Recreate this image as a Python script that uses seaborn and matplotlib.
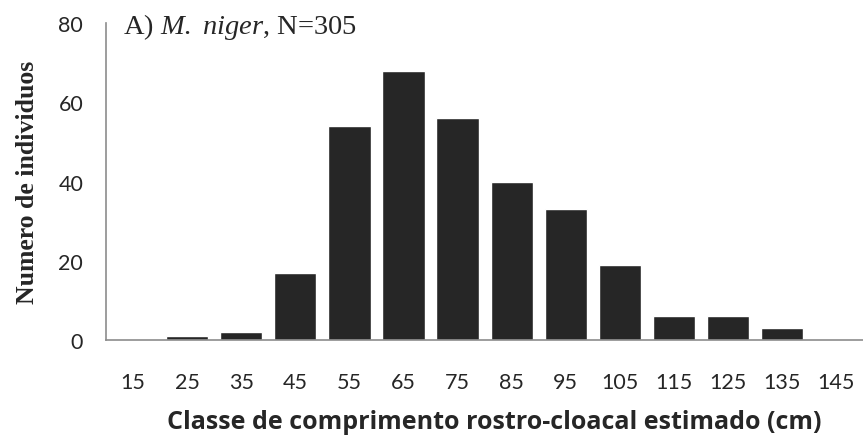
import numpy as np
import pandas as pd
import matplotlib
matplotlib.use("Agg")
import matplotlib.pyplot as plt
import seaborn as sns

classes = ["15", "25", "35", "45", "55", "65", "75", "85", "95", "105", "115", "125", "135", "145"]
counts = [0, 1, 2, 17, 54, 68, 56, 40, 33, 19, 6, 6, 3, 0]

df = pd.DataFrame({"classe": classes, "n": counts})

sns.set_style("white")
plt.rcParams["mathtext.fontset"] = "custom"
plt.rcParams["mathtext.rm"] = "Liberation Serif"
plt.rcParams["mathtext.it"] = "Liberation Serif:italic"

fig = plt.figure(figsize=(8.63, 4.39), dpi=100)
ax = fig.add_axes([0.123, 0.223, 0.877, 0.722])

sns.barplot(data=df, x="classe", y="n", order=classes, color="#262626",
            width=0.78, saturation=1, ax=ax)

ax.set_xlim(-0.5, 13.5)
ax.set_ylim(0, 80)
ax.set_yticks([0, 20, 40, 60, 80])

# x ticks at class boundaries, labels in the middle
ax.set_xticks(np.arange(len(classes)))
ax.set_xticklabels(classes, family="Lato", fontsize=15.5)
ax.set_xticks(np.arange(len(classes)) - 0.5, minor=True)
ax.tick_params(axis="x", which="major", length=0, pad=23)
ax.tick_params(axis="x", which="minor", length=6, width=1.2, color="#8c8c8c", direction="out")
ax.tick_params(axis="y", length=6, width=1.2, color="#8c8c8c", direction="out", pad=10.5)
for lab in ax.get_yticklabels():
    lab.set_family("Lato")
    lab.set_fontsize(15.5)

for s in ["top", "right"]:
    ax.spines[s].set_visible(False)
for s in ["left", "bottom"]:
    ax.spines[s].set_color("#8c8c8c")
    ax.spines[s].set_linewidth(1.2)

ax.set_xlabel("Classe de comprimento rostro-cloacal estimado (cm)",
              family="Open Sans", fontweight="bold", fontsize=18, va="center")
ax.xaxis.set_label_coords(0.513, -0.258)
ax.set_ylabel("Numero de individuos", family="Liberation Serif",
              fontweight="bold", fontsize=18.5, labelpad=14)

ax.text(0.022, 0.99, r"A) $\it{M.\ niger}$, N=305", transform=ax.transAxes,
        family="Liberation Serif", fontsize=20.5, va="center", ha="left")

fig.savefig("out.png", dpi=100)
